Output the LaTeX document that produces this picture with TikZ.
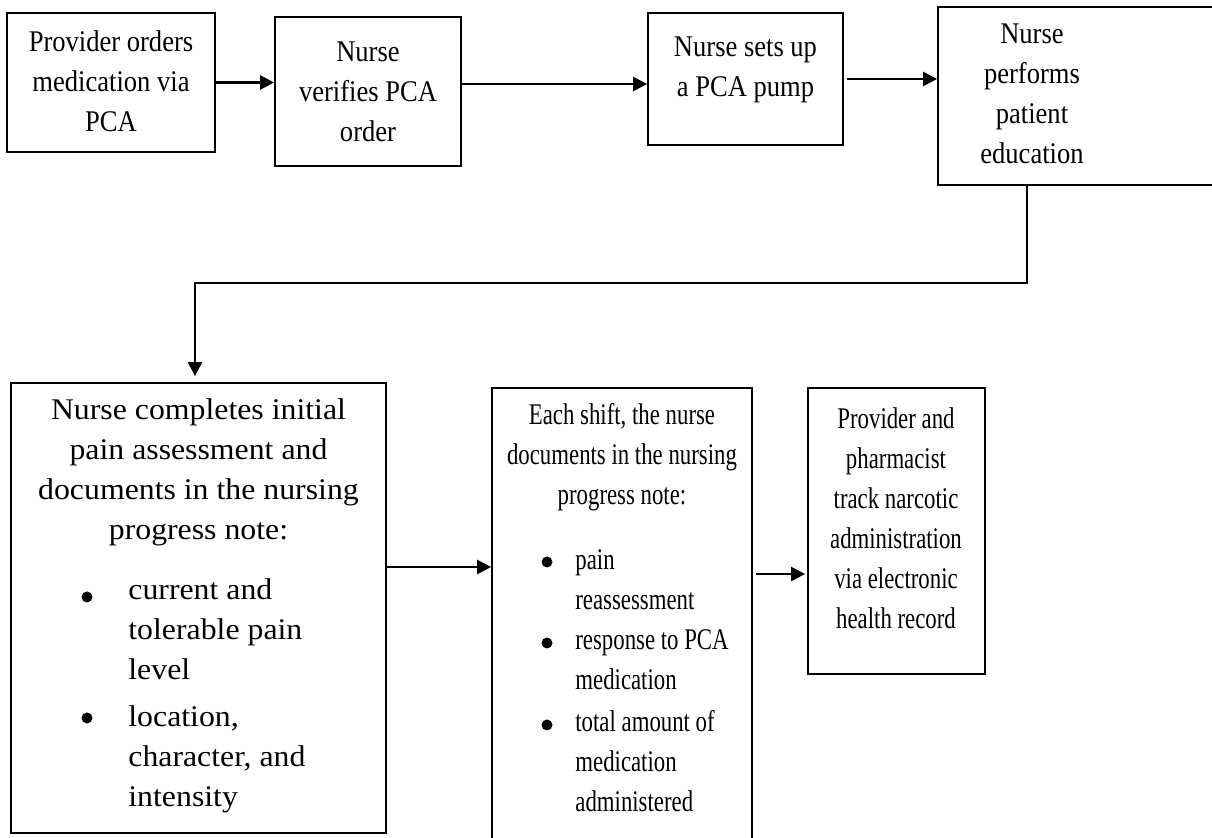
\documentclass[tikz,border=0pt]{standalone}
\usepackage{fontspec}
\setmainfont{Liberation Serif}
\newfontfamily\fnorm[FakeStretch=0.885]{Liberation Serif}
\newfontfamily\fwide[FakeStretch=1.06]{Liberation Serif}
\newfontfamily\fnarrow[FakeStretch=0.76]{Liberation Serif}
\usetikzlibrary{fit,arrows.meta}
\newcommand\Ln{\\\strut}
\begin{document}
\begin{tikzpicture}[x=0.5pt,y=-0.5pt,
  box/.style={draw,line width=0.9pt,inner sep=0pt},
  ctext/.style={align=center,inner sep=0pt,anchor=north},
  ltext/.style={align=left,inner sep=0pt,anchor=north west},
  bul/.style={circle,fill,inner sep=0pt,minimum size=5.5pt},
  nf/.style={font={\fnorm\fontsize{15}{20}\selectfont}},
  wf/.style={font={\fwide\fontsize{15}{20}\selectfont}},
  rf/.style={font={\fnarrow\fontsize{15}{20}\selectfont}},
  arr/.style={line width=1.2pt,-{Triangle[length=7pt,width=7pt]}}]
\path[use as bounding box] (0,0) rectangle (1212,838);

% boxes
\node[box,fit={(7,13)(215,152)}] (b1) {};
\node[box,fit={(275,17)(461,166)}] (b2) {};
\node[box,fit={(648,13)(843,145)}] (b3) {};
\node[box,fit={(938,7)(1222,185)}] (b4) {};
\node[box,fit={(11,383)(386,833)}] (b5) {};
\node[box,fit={(492,388)(752,850)}] (b6) {};
\node[box,fit={(808,388)(985,674)}] (b7) {};

% texts
\node[ctext,nf] (t1) at (111,23) {\strut Provider orders\Ln medication via\Ln PCA};
\node[ctext,nf] (t2) at (368,33) {\strut Nurse\Ln verifies PCA\Ln order};
\node[ctext,nf] (t3) at (745.5,28) {\strut Nurse sets up\Ln a PCA pump};
\node[ctext,nf] (t4) at (1032,15) {\strut Nurse\Ln performs\Ln patient\Ln education};

\node[ctext,wf] (t5) at (198.5,391) {\strut Nurse completes initial\Ln pain assessment and\Ln documents in the nursing\Ln progress note:};
\node[bul] (u51) at (87,597) {};
\node[ltext,wf] (i51) at (128,571) {\strut current and\Ln tolerable pain\Ln level};
\node[bul] (u52) at (87,718) {};
\node[ltext,wf] (i52) at (128,698) {\strut location,\Ln character, and\Ln intensity};

\node[ctext,rf] (t6) at (622,396) {\strut Each shift, the nurse\Ln documents in the nursing\Ln progress note:};
\node[bul] (u61) at (547,562) {};
\node[ltext,rf] (i61) at (575,541) {\strut pain\Ln reassessment};
\node[bul] (u62) at (547,643) {};
\node[ltext,rf] (i62) at (575,621) {\strut response to PCA\Ln medication};
\node[bul] (u63) at (547,725) {};
\node[ltext,rf] (i63) at (575,703) {\strut total amount of\Ln medication\Ln administered};

\node[ctext,rf] (t7) at (896,400) {\strut Provider and\Ln pharmacist\Ln track narcotic\Ln administration\Ln via electronic\Ln health record};

% connectors
\coordinate (k1) at (1027,283);
\coordinate (k2) at (195,283);
\coordinate (y2) at (0,84);
\coordinate (y5) at (0,567);
\coordinate (y6) at (0,574);
\draw[arr] (b1.east) -- (b1.east -| b2.west);
\draw[arr] (b2.east |- y2) -- (b3.west |- y2);
\draw[arr,shorten <=1.5pt] (b3.east) -- (b3.east -| b4.west);
\draw[arr,shorten >=3pt] (b4.south -| k1) -- (k1) -- (k2) -- (k2 |- b5.north);
\draw[arr] (b5.east |- y5) -- (b6.west |- y5);
\draw[arr,shorten <=1.5pt,shorten >=1pt] (b6.east |- y6) -- (b7.west |- y6);
\end{tikzpicture}
\end{document}
